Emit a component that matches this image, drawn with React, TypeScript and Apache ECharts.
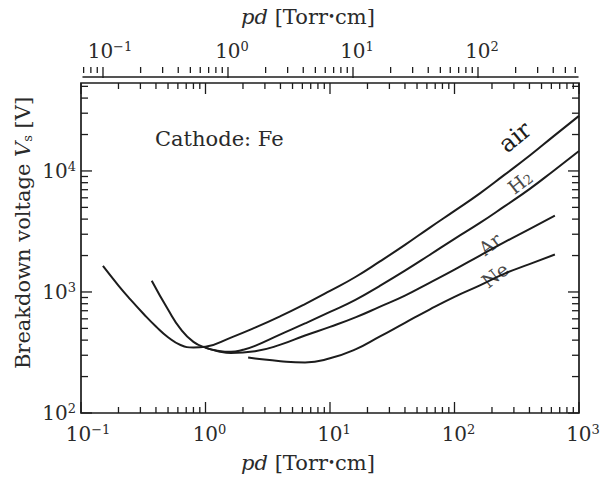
import React, { useEffect, useRef } from "react";
import * as echarts from "echarts";

// Paschen curves, cathode Fe  (pd in Torr·cm, breakdown voltage in V)
const airPd = [0.15, 0.2, 0.25, 0.32, 0.4, 0.5, 0.63, 0.8, 1, 1.6, 2.5, 4, 6.3, 10, 16, 25, 40, 63, 100, 160, 250, 400, 630, 1000];
const airV = [1640, 1130, 865, 655, 519, 423, 365, 348, 353, 420, 507, 631, 794, 1020, 1330, 1780, 2450, 3390, 4680, 6530, 9230, 13340, 19500, 28500];

const h2Pd = [0.37, 0.5, 0.63, 0.8, 1, 1.26, 1.6, 2, 2.5, 4, 6.3, 10, 16, 25, 40, 63, 100, 160, 250, 400, 630, 1000];
const h2V = [1240, 716, 495, 387, 347, 327, 320, 333, 359, 447, 550, 684, 861, 1120, 1500, 2020, 2750, 3720, 5070, 7080, 10100, 14600];

const arPd = [1, 1.26, 1.6, 2.5, 4, 6.3, 10, 16, 25, 40, 63, 100, 160, 250, 400, 640];
const arV = [345, 324, 313, 324, 367, 437, 515, 617, 753, 933, 1190, 1530, 2000, 2570, 3310, 4270];

const nePd = [2.2, 2.5, 4, 6.3, 10, 16, 25, 40, 63, 100, 160, 250, 400, 640];
const neV = [287, 282, 268, 262, 283, 335, 427, 556, 716, 912, 1135, 1413, 1700, 2040];

// axes
const X_MIN = 0.1;
const X_MAX = 1000;
const Y_MIN = 100;
const Y_MAX = 53300;
const TOP_MIN = 0.0692;
const TOP_MAX = 631;

const xDecades = [0.1, 1, 10, 100, 1000];
const yDecades = [100, 1000, 10000];
const topDecades = [0.1, 1, 10, 100];
const minorSteps = [2, 3, 4, 5, 6, 7, 8, 9];
const topLeadSteps = [0.07, 0.08, 0.09];

const INK = "#1c1c1c";
const TXT = "#2a2a2a";
const FONT = "DejaVu Serif";

const MAJOR = 11;
const MINOR = 6;

function zip(xs: number[], ys: number[]) {
  return xs.map((x, i) => [x, ys[i]]);
}

function minorOf(decades: number[], lo: number, hi: number) {
  const out: number[] = [];
  decades.forEach((d) => minorSteps.forEach((s) => {
    const v = d * s;
    if (v > lo && v < hi) out.push(v);
  }));
  return out;
}

function expOf(v: number) {
  const l = Math.log10(v);
  const e = Math.round(l);
  if (Math.abs(l - e) > 1e-6) return null;
  return e;
}

function supText(e: number) {
  return e < 0 ? "\u2212" + -e : String(e);
}

const richNum = {
  b: { fontFamily: FONT, fontSize: 20, lineHeight: 22, color: TXT },
  s: { fontFamily: FONT, fontSize: 13, verticalAlign: "top", color: TXT },
  pn: { width: 14, fontSize: 13 },
  pd: { width: 8, fontSize: 13 },
};

export default function App() {
  const ref = useRef<HTMLDivElement>(null);

  useEffect(() => {
    if (!ref.current) return;
    const chart = echarts.init(ref.current, null, { renderer: "svg" });

    const xMinor = minorOf([0.1, 1, 10, 100], X_MIN, X_MAX);
    const yMinor = minorOf(yDecades, Y_MIN, Y_MAX);
    const topMinor = [...topLeadSteps, ...minorOf(topDecades, TOP_MIN, TOP_MAX)];

    const frameTicks: number[][] = [
      ...xDecades.map((v) => [v, Y_MIN, 0, MAJOR]),
      ...xMinor.map((v) => [v, Y_MIN, 0, MINOR]),
      ...yDecades.map((v) => [X_MIN, v, 1, MAJOR]),
      ...yMinor.map((v) => [X_MIN, v, 1, MINOR + 1]),
    ];
    const topTicks: number[][] = [
      ...topDecades.map((v) => [v, 1, MAJOR]),
      ...topMinor.map((v) => [v, 1, MINOR]),
    ];

    const tickStyle = { stroke: INK, lineWidth: 1.3 };

    const xLabel = (v: number) => {
      const e = expOf(v);
      if (e === null) return "";
      return `{${e < 0 ? "pn" : "pd"}| }{b|10}{s|${supText(e)}}`;
    };
    const yLabel = (v: number) => {
      const e = expOf(v);
      if (e === null || v > 20000) return "";
      return `{b|10}{s|${supText(e)}}`;
    };

    const lineSeries = (name: string, xs: number[], ys: number[]) => ({
      type: "line",
      name,
      data: zip(xs, ys),
      xAxisIndex: 0,
      yAxisIndex: 0,
      smooth: 0.5,
      symbol: "none",
      lineStyle: { color: INK, width: 2 },
      silent: true,
      z: 5,
    });

    const option: any = {
      animation: false,
      backgroundColor: "#ffffff",
      grid: [
        { left: 81, right: 25, top: 83, bottom: 69, show: true, borderColor: INK, borderWidth: 1.7, backgroundColor: "transparent" },
        { left: 83, right: 26, top: 67, height: 10, show: false },
      ],
      xAxis: [
        {
          type: "log",
          logBase: 10,
          gridIndex: 0,
          min: X_MIN,
          max: X_MAX,
          position: "bottom",
          axisLine: { show: false },
          axisTick: { show: false },
          splitLine: { show: false },
          minorTick: { show: false },
          axisLabel: { formatter: xLabel, rich: richNum, margin: 10, color: TXT, showMinLabel: true, showMaxLabel: true },
        },
        {
          type: "log",
          logBase: 10,
          gridIndex: 1,
          min: TOP_MIN,
          max: TOP_MAX,
          position: "top",
          axisLine: { show: true, lineStyle: { color: INK, width: 1.5 } },
          axisTick: { show: false },
          splitLine: { show: false },
          axisLabel: { formatter: xLabel, rich: richNum, margin: 5, color: TXT },
        },
      ],
      yAxis: [
        {
          type: "log",
          logBase: 10,
          gridIndex: 0,
          min: Y_MIN,
          max: Y_MAX,
          axisLine: { show: false },
          axisTick: { show: false },
          splitLine: { show: false },
          axisLabel: { formatter: yLabel, rich: richNum, margin: 5, color: TXT },
        },
        {
          type: "value",
          gridIndex: 1,
          min: 0,
          max: 1,
          show: false,
        },
      ],
      series: [
        lineSeries("air", airPd, airV),
        lineSeries("H2", h2Pd, h2V),
        lineSeries("Ar", arPd, arV),
        lineSeries("Ne", nePd, neV),
        {
          type: "custom",
          xAxisIndex: 0,
          yAxisIndex: 0,
          silent: true,
          clip: false,
          dimensions: ["x", "y", "kind", "len"],
          encode: { x: 0, y: 1 },
          data: frameTicks,
          z: 6,
          renderItem: (_p: any, api: any) => {
            const x = api.value(0);
            const y = api.value(1);
            const kind = api.value(2);
            const len = api.value(3);
            if (kind === 0) {
              const b = api.coord([x, Y_MIN]);
              const t = api.coord([x, Y_MAX]);
              return {
                type: "group",
                children: [
                  { type: "line", shape: { x1: b[0], y1: b[1], x2: b[0], y2: b[1] - len }, style: tickStyle },
                  { type: "line", shape: { x1: t[0], y1: t[1], x2: t[0], y2: t[1] + len }, style: tickStyle },
                ],
              };
            }
            const l = api.coord([X_MIN, y]);
            const r = api.coord([X_MAX, y]);
            return {
              type: "group",
              children: [
                { type: "line", shape: { x1: l[0], y1: l[1], x2: l[0] + len, y2: l[1] }, style: tickStyle },
                { type: "line", shape: { x1: r[0], y1: r[1], x2: r[0] - len, y2: r[1] }, style: tickStyle },
              ],
            };
          },
        },
        {
          type: "custom",
          xAxisIndex: 1,
          yAxisIndex: 1,
          silent: true,
          clip: false,
          dimensions: ["x", "y", "len"],
          encode: { x: 0, y: 1 },
          data: topTicks,
          z: 6,
          renderItem: (_p: any, api: any) => {
            const p = api.coord([api.value(0), 1]);
            const len = api.value(2);
            return { type: "line", shape: { x1: p[0], y1: p[1], x2: p[0], y2: p[1] + len }, style: tickStyle };
          },
        },
      ],
      graphic: [
        {
          type: "text",
          x: 308,
          y: 17,
          silent: true,
          style: {
            text: "{i|pd} [Torr{d|\u2022}cm]",
            fontFamily: FONT,
            fontSize: 21,
            fill: TXT,
            align: "center",
            verticalAlign: "middle",
            rich: {
              i: { fontFamily: FONT, fontSize: 21, fontStyle: "italic", fill: TXT },
              d: { fontFamily: FONT, fontSize: 12, fill: TXT },
            },
          },
        },
        {
          type: "text",
          x: 308,
          y: 463,
          silent: true,
          style: {
            text: "{i|pd} [Torr{d|\u2022}cm]",
            fontFamily: FONT,
            fontSize: 21,
            fill: TXT,
            align: "center",
            verticalAlign: "middle",
            rich: {
              i: { fontFamily: FONT, fontSize: 21, fontStyle: "italic", fill: TXT },
              d: { fontFamily: FONT, fontSize: 12, fill: TXT },
            },
          },
        },
        {
          type: "text",
          x: 23,
          y: 233,
          rotation: Math.PI / 2,
          silent: true,
          style: {
            text: "Breakdown voltage {i|V}{sub|s} [V]",
            fontFamily: FONT,
            fontSize: 21,
            fill: TXT,
            align: "center",
            verticalAlign: "middle",
            rich: {
              i: { fontFamily: FONT, fontSize: 21, fontStyle: "italic", fill: TXT },
              sub: { fontFamily: FONT, fontSize: 13, verticalAlign: "bottom", fill: TXT },
            },
          },
        },
        {
          type: "text",
          x: 155,
          y: 139,
          silent: true,
          style: { text: "Cathode: Fe", fontFamily: FONT, fontSize: 21, fill: TXT, align: "left", verticalAlign: "middle" },
        },
        {
          type: "text",
          x: 515,
          y: 137,
          rotation: 0.68,
          silent: true,
          style: { text: "air", fontFamily: FONT, fontSize: 24, fill: INK, align: "center", verticalAlign: "middle" },
        },
        {
          type: "text",
          x: 520,
          y: 182,
          rotation: 0.66,
          silent: true,
          style: {
            text: "{n|H}{sub|2}",
            align: "center",
            verticalAlign: "middle",
            fill: "#4a4a4a",
            rich: {
              n: { fontFamily: FONT, fontSize: 19, fill: "#4a4a4a" },
              sub: { fontFamily: FONT, fontSize: 13, verticalAlign: "bottom", fill: "#4a4a4a" },
            },
          },
        },
        {
          type: "text",
          x: 490,
          y: 244,
          rotation: 0.66,
          silent: true,
          style: { text: "Ar", fontFamily: FONT, fontSize: 19, fill: "#4a4a4a", align: "center", verticalAlign: "middle" },
        },
        {
          type: "text",
          x: 495,
          y: 275,
          rotation: 0.66,
          silent: true,
          style: { text: "Ne", fontFamily: FONT, fontSize: 19, fill: "#4a4a4a", align: "center", verticalAlign: "middle" },
        },
      ],
    };

    chart.setOption(option);
    return () => chart.dispose();
  }, []);

  return (
    <div
      ref={ref}
      style={{ position: "absolute", left: 0, top: 0, width: 604, height: 482, background: "#fff" }}
    />
  );
}
